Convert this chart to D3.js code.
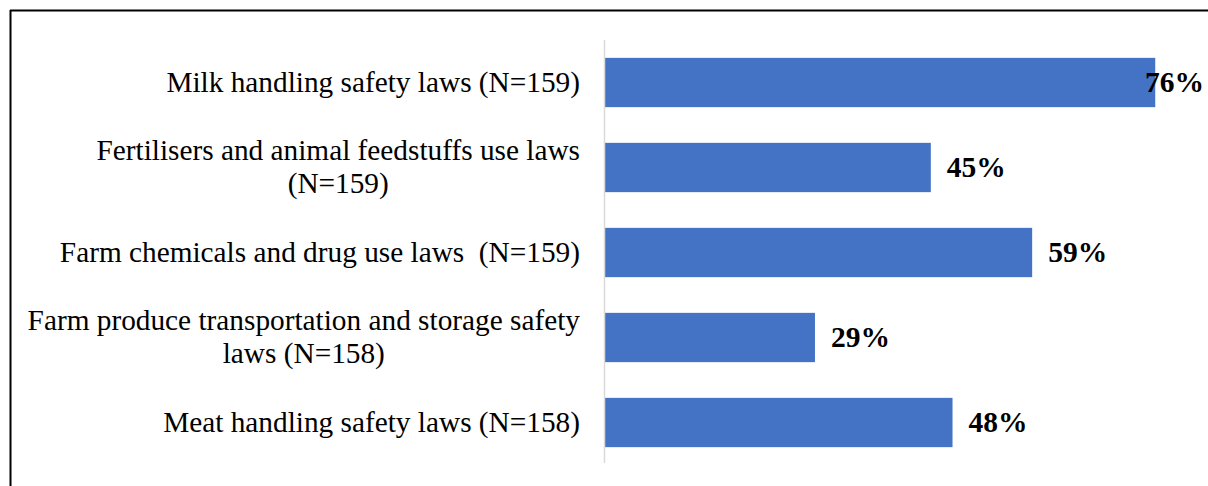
<!DOCTYPE html>
<html>
<head>
<meta charset="utf-8">
<script src="https://cdn.jsdelivr.net/npm/d3@7"></script>
<style>
  html, body { margin: 0; padding: 0; background: #fff; }
  svg { display: block; }
  text { font-family: "Liberation Serif", "Times New Roman", serif; fill: #000; white-space: pre; }
</style>
</head>
<body>
<svg id="chart" width="1208" height="486"></svg>
<script>
// Survey categories (each entry is a list of label lines) and shares in percent
const categories = [
  ["Milk handling safety laws (N=159)"],
  ["Fertilisers and animal feedstuffs use laws", "(N=159)"],
  ["Farm chemicals and drug use laws  (N=159)"],
  ["Farm produce transportation and storage safety", "laws (N=158)"],
  ["Meat handling safety laws (N=158)"]
];
const values = [76, 45, 59, 29, 48];
const valueLabels = ["76%", "45%", "59%", "29%", "48%"];

const W = 1208, H = 486;
const svg = d3.select("#chart");

// Frame lines (top and left)
svg.append("line").attr("x1", 10).attr("x2", W).attr("y1", 10.5).attr("y2", 10.5)
  .attr("stroke", "#000").attr("stroke-width", 2);
svg.append("line").attr("x1", 10.5).attr("x2", 10.5).attr("y1", 10).attr("y2", H)
  .attr("stroke", "#000").attr("stroke-width", 2);

const x0 = 605;
const x = d3.scaleLinear().domain([0, 100]).range([x0, x0 + 724]);
const y = d3.scaleBand()
  .domain(d3.range(categories.length))
  .range([40, 465])
  .paddingInner(0.42)
  .paddingOuter(0.21);

// Bars
svg.append("g").selectAll("rect")
  .data(values)
  .join("rect")
  .attr("x", x(0))
  .attr("y", (d, i) => y(i))
  .attr("width", d => x(d) - x(0))
  .attr("height", y.bandwidth())
  .attr("fill", "#4472C4");

// Category axis line
svg.append("line")
  .attr("x1", x0 - 0.5).attr("x2", x0 - 0.5)
  .attr("y1", 40).attr("y2", 463)
  .attr("stroke", "#d9d9d9").attr("stroke-width", 1.5);

// Category labels: lines centred on each other, block right-aligned
const labelRight = 580;
const lineH = 33;
categories.forEach((lines, i) => {
  const cy = y(i) + y.bandwidth() / 2;
  const t = svg.append("text")
    .attr("font-size", 29.3)
    .attr("text-anchor", "middle");
  lines.forEach((ln, k) => {
    t.append("tspan")
      .attr("y", cy + (k - (lines.length - 1) / 2) * lineH)
      .attr("dy", "0.31em")
      .text(ln);
  });
  let maxW = 0;
  t.selectAll("tspan").each(function () {
    maxW = Math.max(maxW, this.getComputedTextLength());
  });
  t.selectAll("tspan").attr("x", labelRight - maxW / 2);
});

// Value labels, kept inside the chart's right edge
const rightLimit = 1204;
values.forEach((v, i) => {
  const t = svg.append("text")
    .attr("font-size", 29.5)
    .attr("font-weight", "bold")
    .attr("y", y(i) + y.bandwidth() / 2)
    .attr("dy", "0.32em")
    .text(valueLabels[i]);
  const w = t.node().getComputedTextLength();
  t.attr("x", Math.min(x(v) + 16, rightLimit - w));
});
</script>
</body>
</html>
